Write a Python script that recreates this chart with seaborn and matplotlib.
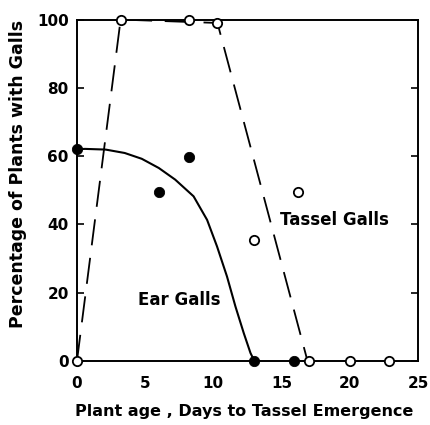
import matplotlib
matplotlib.use("Agg")
import matplotlib.pyplot as plt
import seaborn as sns

# values
tassel_x = [0, 3.2, 8.2, 10.3, 13.0, 16.2, 17.0, 20.0, 22.9]
tassel_y = [0, 100, 100, 99, 35.5, 49.5, 0, 0, 0]
ear_x = [0, 6.0, 8.2, 13.0, 15.9]
ear_y = [62, 49.5, 59.7, 0, 0]

# hand-drawn trend lines
ear_curve_x = [0, 0.6, 2.1, 3.5, 4.75, 6.0, 7.2, 8.55, 9.54, 10.27, 11.0,
               11.62, 12.23, 12.72, 13.0]
ear_curve_y = [62.0, 62.1, 61.9, 60.9, 59.2, 56.5, 53.1, 48.2, 41.3, 33.5,
               24.7, 15.9, 8.1, 2.3, 0]
tassel_fit_x = [0, 3.2, 10.3, 16.9]
tassel_fit_y = [0, 100, 99, 0]

xticks = [0, 5, 10, 15, 20, 25]
yticks = [0, 20, 40, 60, 80, 100]

sns.set_style("white")
plt.rcParams['font.family'] = ['DejaVu Sans']
plt.rcParams['font.weight'] = 'bold'
plt.rcParams['text.color'] = 'black'
plt.rcParams['axes.labelcolor'] = 'black'
plt.rcParams['xtick.color'] = 'black'
plt.rcParams['ytick.color'] = 'black'

fig = plt.figure(figsize=(4.3, 4.25), dpi=100)
ax = fig.add_axes([0.179, 0.151, 0.793, 0.803])

sns.lineplot(x=ear_curve_x, y=ear_curve_y, ax=ax, color="black", lw=1.5,
             sort=False, estimator=None)
sns.lineplot(x=tassel_fit_x, y=tassel_fit_y, ax=ax, color="black", lw=1.3,
             sort=False, estimator=None)
ax.lines[-1].set_linestyle((0, (14.5, 7)))

sns.scatterplot(x=tassel_x, y=tassel_y, ax=ax, s=45, facecolor="white",
                edgecolor="black", linewidth=1.3, zorder=5, clip_on=False)
sns.scatterplot(x=ear_x, y=ear_y, ax=ax, s=55, color="black",
                edgecolor="black", zorder=6, clip_on=False)

ax.set_xlim(0, 25)
ax.set_ylim(0, 100)
ax.set_xticks(xticks)
ax.set_yticks(yticks)
ax.tick_params(axis="x", length=0, pad=11, labelsize=11)
ax.tick_params(axis="y", direction="in", length=5, width=1.2, pad=6,
               labelsize=11, right=True, left=True)
for s in ax.spines.values():
    s.set_linewidth(1.4)
    s.set_color("black")

ax.text(18.9, 41.3, "Tassel Galls", ha="center", va="center",
        fontsize=12, fontweight="bold")
ax.text(7.5, 17.9, "Ear Galls", ha="center", va="center",
        fontsize=12, fontweight="bold")

ax.set_xlabel("Plant age , Days to Tassel Emergence", fontsize=11.5,
              fontweight="bold")
ax.set_ylabel("Percentage of Plants with Galls", fontsize=12.5,
              fontweight="bold")
ax.xaxis.set_label_coords(0.49, -0.127)
ax.yaxis.set_label_coords(-0.147, 0.548)

fig.savefig("out.png", dpi=100)
